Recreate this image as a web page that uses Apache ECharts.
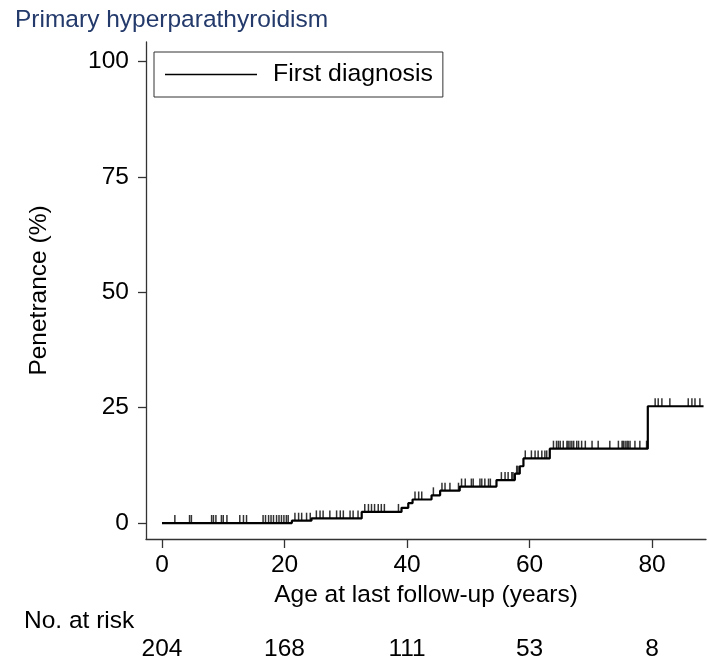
<!DOCTYPE html>
<html>
<head>
<meta charset="utf-8">
<script src="https://cdn.jsdelivr.net/npm/echarts/dist/echarts.min.js"></script>
<style>html,body{margin:0;padding:0;background:#fff;}#c{width:709px;height:659px;}</style>
</head>
<body>
<div id="c"></div>
<script>
// ---- data ----
var titleText = 'Primary hyperparathyroidism';
var seriesName = 'First diagnosis';
var stepAges   = [0, 21.2, 24.4, 32.6, 39.1, 40.2, 40.9, 44.0, 45.4, 48.6, 54.6, 57.6, 58.4, 59.0, 63.3, 79.3, 88.4];
var stepValues = [0, 0.5, 1.0, 2.4, 3.3, 4.3, 5.1, 6.0, 7.0, 7.9, 9.3, 10.7, 12.3, 14.0, 16.1, 25.3, 25.3];
var censorAges = [2.1, 4.5, 4.8, 8.1, 8.4, 8.8, 9.7, 10.0, 10.6, 12.7, 13.3, 13.8, 16.5, 16.9, 17.4, 17.8, 18.2, 18.7, 19.1, 19.5, 19.9, 20.3, 20.6,
  21.7, 22.3, 22.8, 23.6, 24.2, 25.2, 25.8, 26.3, 27.4, 28.5, 29.1, 29.6, 30.7, 31.2, 32.0, 33.1, 33.7, 34.2, 34.7, 35.3, 35.8, 36.3, 38.6,
  41.3, 41.9, 42.4, 44.3, 45.7, 46.2, 47.0, 48.4, 48.9, 49.5, 50.5, 50.8, 51.9, 52.2, 52.7, 53.3, 53.6, 55.4, 56.0, 56.5, 57.1, 57.3, 57.9, 58.1,
  59.3, 60.3, 60.9, 61.4, 62.0, 62.5, 62.8, 63.9, 64.4, 64.7, 65.0, 65.5, 66.1, 66.3, 66.6, 66.9, 67.2, 67.7, 68.0, 68.5, 69.1, 70.2, 71.2,
  73.1, 74.5, 75.1, 75.3, 75.6, 75.9, 76.1, 76.4, 77.2, 78.0, 79.1, 80.5, 81.0, 81.6, 82.9, 85.9, 86.5, 87.0, 87.8];
var xTicks = [0, 20, 40, 60, 80];
var yTicks = [0, 25, 50, 75, 100];
var riskAges = [0, 20, 40, 60, 80];
var riskCounts = [204, 168, 111, 53, 8];
var xTitle = 'Age at last follow-up (years)';
var yTitle = 'Penetrance (%)';
var riskTitle = 'No. at risk';

// ---- build ----
function levelAt(a) {
  var v = stepValues[0];
  for (var i = 0; i < stepAges.length; i++) { if (stepAges[i] <= a) v = stepValues[i]; }
  return v;
}
var FONT = '"Liberation Sans", Arial, Helvetica, sans-serif';
var AX = '#333333';
var FS = 24.5;
var chart = echarts.init(document.getElementById('c'), null, {renderer: 'canvas'});
var option = {
  animation: false,
  backgroundColor: '#ffffff',
  textStyle: {fontFamily: FONT},
  title: {
    text: titleText, left: 15, top: 8, padding: 0,
    textStyle: {fontFamily: FONT, fontSize: 24.5, fontWeight: 'normal', color: '#233a6b'}
  },
  legend: {
    data: [seriesName], left: 154, top: 52, orient: 'horizontal',
    padding: [10, 10, 10, 11], borderColor: AX, borderWidth: 1,
    icon: 'rect', itemWidth: 92, itemHeight: 1.7,
    textStyle: {fontFamily: FONT, fontSize: 24.8, lineHeight: 24, color: '#000', padding: [0, 0, 0, 11]}
  },
  grid: {left: 146, right: 3, top: 42, bottom: 120, containLabel: false},
  xAxis: {
    type: 'value', min: -2.61, max: 88.8,
    name: xTitle, nameLocation: 'middle', nameGap: 35,
    nameTextStyle: {fontFamily: FONT, fontSize: FS, color: '#000'},
    axisLine: {show: true, onZero: false, lineStyle: {color: AX, width: 1.3}},
    axisTick: {show: true, length: 9, customValues: xTicks, lineStyle: {color: AX, width: 1.3}},
    axisLabel: {show: true, customValues: xTicks, margin: 14, fontFamily: FONT, fontSize: FS, color: '#000'},
    splitLine: {show: false}
  },
  yAxis: {
    type: 'value', min: -3.46, max: 104.2,
    name: yTitle, nameLocation: 'middle', nameGap: 94, nameRotate: 90,
    nameTextStyle: {fontFamily: FONT, fontSize: FS, color: '#000'},
    axisLine: {show: true, onZero: false, lineStyle: {color: AX, width: 1.3}},
    axisTick: {show: true, length: 8, customValues: yTicks, lineStyle: {color: AX, width: 1.3}},
    axisLabel: {show: true, customValues: yTicks, margin: 17, fontFamily: FONT, fontSize: FS, color: '#000'},
    splitLine: {show: false}
  },
  series: [
    {
      name: seriesName, type: 'line', step: 'end', showSymbol: false, symbol: 'none',
      color: '#000',
      lineStyle: {color: '#000', width: 2.2},
      data: stepAges.map(function (a, i) { return [a, stepValues[i]]; }),
      z: 3
    },
    {
      name: 'censored', type: 'scatter', symbol: 'rect', symbolSize: [1.5, 8], symbolOffset: [0, -4],
      itemStyle: {color: '#000'},
      data: censorAges.map(function (a) { return [a, levelAt(a)]; }),
      z: 4
    }
  ]
};
chart.setOption(option);

var g = [{
  type: 'text', left: 24, top: 609,
  style: {text: riskTitle, font: '24.5px ' + FONT, fill: '#000'}
}];
riskAges.forEach(function (a, i) {
  var px = chart.convertToPixel({xAxisIndex: 0}, a);
  g.push({
    type: 'text', x: px, y: 649,
    style: {text: String(riskCounts[i]), font: '24.5px ' + FONT, fill: '#000', align: 'center', verticalAlign: 'middle'}
  });
});
chart.setOption({graphic: g});
</script>
</body>
</html>
